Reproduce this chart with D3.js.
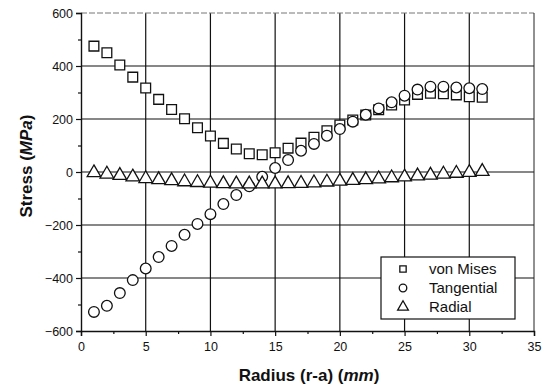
<!DOCTYPE html>
<html>
<head>
<meta charset="utf-8">
<script src="https://d3js.org/d3.v7.min.js"></script>
<style>
body { margin: 0; background: #fff; }
text { font-family: Arial, "Liberation Sans", sans-serif; }
</style>
</head>
<body>
<svg></svg>
<script>
var radius = d3.range(1, 32);
var vonMises = [475, 450, 404, 358, 317, 274, 236, 201, 167, 136, 108, 87, 69, 65, 73, 90, 109,
    131, 156, 177, 196, 215, 235, 253, 272, 293, 297, 295, 291, 284, 282];
var tangential = [-528, -505, -457, -408, -364, -321, -279, -237, -196, -159, -121, -87, -54, -18, 15, 45, 80,
    106, 137, 162, 190, 216, 240, 263, 288, 311, 322, 322, 319, 316, 313];
var radial = [-3, -8, -13, -19, -25, -29, -33, -37, -40, -42, -44, -45, -45, -45, -45, -44, -43,
    -41, -38, -35, -32, -29, -26, -22, -19, -15, -12, -8, -5, -2, 2];
var xTicks = [0, 5, 10, 15, 20, 25, 30, 35];
var yTicks = [-600, -400, -200, 0, 200, 400, 600];
var seriesNames = ['von Mises', 'Tangential', 'Radial'];

var W = 552, H = 386;
var svg = d3.select('svg')
    .attr('width', W)
    .attr('height', H);

var x = d3.scaleLinear().domain([0, 35]).range([81, 534]);
var y = d3.scaleLinear().domain([-600, 600]).range([331, 13]);

// grid
svg.append('g').selectAll('line')
    .data(xTicks.slice(1, -1))
    .enter().append('line')
    .attr('x1', function(d) { return x(d); })
    .attr('x2', function(d) { return x(d); })
    .attr('y1', y(600)).attr('y2', y(-600))
    .attr('stroke', '#111').attr('stroke-width', 1.2);

svg.append('g').selectAll('line')
    .data(yTicks.slice(1, -1))
    .enter().append('line')
    .attr('x1', x(0)).attr('x2', x(35))
    .attr('y1', function(d) { return y(d); })
    .attr('y2', function(d) { return y(d); })
    .attr('stroke', '#111').attr('stroke-width', 1.2);

// frame top/right
svg.append('line')
    .attr('x1', x(0)).attr('x2', x(35)).attr('y1', y(600)).attr('y2', y(600))
    .attr('stroke', '#777').attr('stroke-width', 1).attr('stroke-dasharray', '6,2');
svg.append('line')
    .attr('x1', x(35)).attr('x2', x(35)).attr('y1', y(600)).attr('y2', y(-600))
    .attr('stroke', '#222').attr('stroke-width', 1);

// axes
svg.append('g')
    .attr('transform', 'translate(0,' + y(-600) + ')')
    .call(d3.axisBottom(x).tickValues(xTicks).tickSize(5).tickPadding(6));
svg.append('g')
    .attr('transform', 'translate(0,' + y(-600) + ')')
    .call(d3.axisBottom(x).tickValues(d3.range(2.5, 35, 5)).tickSize(3).tickFormat(''))
    .select('.domain').remove();

svg.append('g')
    .attr('transform', 'translate(' + x(0) + ',0)')
    .call(d3.axisLeft(y).tickValues(yTicks).tickSize(5).tickPadding(3));
svg.append('g')
    .attr('transform', 'translate(' + x(0) + ',0)')
    .call(d3.axisLeft(y).tickValues(d3.range(-500, 600, 200)).tickSize(3).tickFormat(''))
    .select('.domain').remove();

svg.selectAll('.domain').attr('stroke', '#111').attr('stroke-width', 1.4);
svg.selectAll('.tick line').attr('stroke', '#111').attr('stroke-width', 1.2);
svg.selectAll('.tick text')
    .attr('font-size', 12.5)
    .attr('fill', '#111')
    .style('font-family', 'Arial, "Liberation Sans", sans-serif');

// markers
var shapes = [d3.symbolSquare, d3.symbolCircle, d3.symbolTriangle];
var sizes = [95, 90, 80];
var series = [vonMises, tangential, radial];

series.forEach(function(vals, i) {
    svg.append('g').selectAll('path')
        .data(vals)
        .enter().append('path')
        .attr('d', d3.symbol().type(shapes[i]).size(sizes[i]))
        .attr('transform', function(d, j) {
            return 'translate(' + x(radius[j]) + ',' + y(d) + ')';
        })
        .attr('fill', 'white')
        .attr('stroke', '#111')
        .attr('stroke-width', 1.3);
});

// legend
var legend = svg.append('g');
legend.append('rect')
    .attr('x', 381).attr('y', 257)
    .attr('width', 134).attr('height', 62)
    .attr('fill', 'white').attr('stroke', '#111').attr('stroke-width', 1.2);

seriesNames.forEach(function(name, i) {
    var ly = 269 + i * 19;
    legend.append('path')
        .attr('d', d3.symbol().type(shapes[i]).size([40, 45, 50][i]))
        .attr('transform', 'translate(403,' + ly + ')')
        .attr('fill', 'white').attr('stroke', '#111').attr('stroke-width', 1.3);
    legend.append('text')
        .attr('x', 429).attr('y', ly + 5)
        .attr('font-size', 15)
        .attr('fill', '#111')
        .text(name);
});

// axis titles
var xt = svg.append('text')
    .attr('x', 309).attr('y', 381)
    .attr('text-anchor', 'middle')
    .attr('font-size', 17)
    .attr('font-weight', 'bold')
    .attr('fill', '#111');
xt.append('tspan').text('Radius (r-a) (');
xt.append('tspan').attr('font-style', 'italic').text('mm');
xt.append('tspan').text(')');

var yt = svg.append('text')
    .attr('transform', 'translate(32,166) rotate(-90)')
    .attr('text-anchor', 'middle')
    .attr('font-size', 17)
    .attr('font-weight', 'bold')
    .attr('fill', '#111');
yt.append('tspan').text('Stress (');
yt.append('tspan').attr('font-style', 'italic').text('MPa');
yt.append('tspan').text(')');
</script>
</body>
</html>
